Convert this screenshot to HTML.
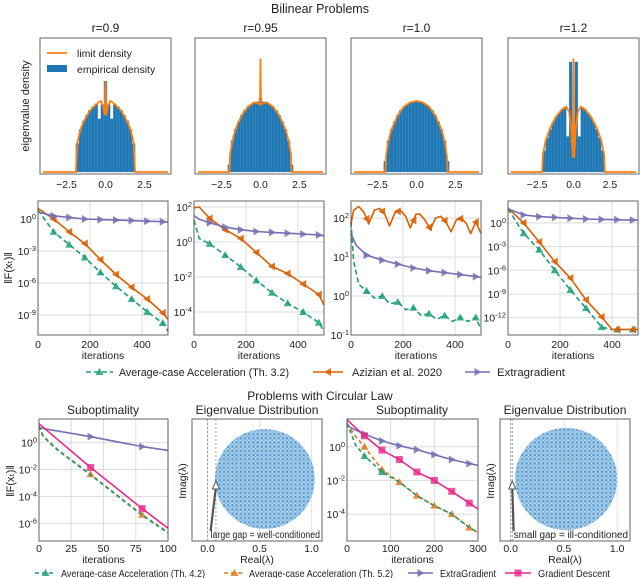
<!DOCTYPE html>
<html><head><meta charset="utf-8">
<style>
html,body{margin:0;padding:0;background:#fff;}
svg{display:block;font-family:"Liberation Sans",sans-serif;}
</style></head>
<body>
<svg id="fig" width="640" height="578" viewBox="0 0 640 578" xmlns="http://www.w3.org/2000/svg">
<defs>
<pattern id="dots" width="4.2" height="4.2" patternUnits="userSpaceOnUse">
<rect width="4.2" height="4.2" fill="#b3d3ec"/>
<circle cx="1.4" cy="1.4" r="1.35" fill="#3f8fca" opacity="0.85"/>
<circle cx="3.5" cy="3.4" r="1.0" fill="#5aa0d4" opacity="0.8"/>
</pattern>
</defs>
</svg>
<script>
// ---------- TOP ROW DATA ----------
const histCenters = [-2,-1.8,-1.6,-1.4,-1.2,-1,-0.8,-0.6,-0.4,-0.2,0,0.2,0.4,0.6,0.8,1,1.2,1.4,1.6,1.8,2];
const hist09 = [0,0.4,0.6,0.72,0.8,0.87,0.92,0.96,0.75,0.95,1.28,0.95,0.75,0.96,0.92,0.87,0.8,0.72,0.6,0.4,0];
const hist095 = [0.1,0.44,0.6,0.71,0.8,0.87,0.92,0.95,0.98,0.99,1.04,0.99,0.98,0.95,0.92,0.87,0.8,0.71,0.6,0.44,0.1];
const hist10 = [0.15,0.44,0.6,0.71,0.8,0.87,0.92,0.95,0.98,0.99,1.0,0.99,0.98,0.95,0.92,0.87,0.8,0.71,0.6,0.44,0.15];
const hist12 = [0.3,0.48,0.6,0.7,0.77,0.83,0.88,0.91,0.5,1.55,0.4,1.55,0.5,0.91,0.88,0.83,0.77,0.7,0.6,0.48,0.3];
const lim09X = [-4,-1.9,-1.8,-1.6,-1.4,-1.2,-1,-0.8,-0.6,-0.4,-0.3,-0.15,-0.05,-0.02,0,0.02,0.05,0.15,0.3,0.4,0.6,0.8,1,1.2,1.4,1.6,1.8,1.9,4];
const lim09Y = [0,0,0.42,0.6,0.71,0.79,0.86,0.91,0.95,0.99,1.0,0.92,0.8,1.1,1.28,1.1,0.8,0.92,1.0,0.99,0.95,0.91,0.86,0.79,0.71,0.6,0.42,0,0];
const lim095X = [-4,-2,-1.95,-1.8,-1.6,-1.2,-0.8,-0.4,-0.1,-0.03,0,0.03,0.1,0.4,0.8,1.2,1.6,1.8,1.95,2,4];
const lim095Y = [0,0,0.25,0.44,0.6,0.8,0.92,0.98,0.96,0.95,1.6,0.95,0.96,0.98,0.92,0.8,0.6,0.44,0.25,0,0];
const lim10X = [-4,-2,-1.95,-1.8,-1.6,-1.2,-0.8,-0.4,0,0.4,0.8,1.2,1.6,1.8,1.95,2,4];
const lim10Y = [0,0,0.22,0.44,0.6,0.8,0.92,0.98,1,0.98,0.92,0.8,0.6,0.44,0.22,0,0];
const lim12X = [-4.3,-2.15,-2.1,-1.9,-1.6,-1.2,-0.8,-0.5,-0.3,-0.15,-0.05,0,0.05,0.15,0.3,0.5,0.8,1.2,1.6,1.9,2.1,2.15,4.3];
const lim12Y = [0,0,0.25,0.45,0.62,0.78,0.88,0.92,0.85,0.6,0.2,1.6,0.2,0.6,0.85,0.92,0.88,0.78,0.62,0.45,0.25,0,0];
const topTicks = [-2.5,0,2.5];
const topTickLabels = ["\u22122.5","0.0","2.5"];
const topTitles = ["r=0.9","r=0.95","r=1.0","r=1.2"];

// ---------- MIDDLE ROW DATA (log10 values) ----------
const m1X = [0,60,120,180,240,300,360,420,480,500];
const m1Green = [0.85,-1.2,-2.4,-3.6,-5.0,-6.3,-7.5,-8.7,-9.75,-10.5];
const m1Orange = [1.0,0,-1.2,-2.3,-3.8,-5.2,-6.4,-7.5,-8.8,-9.4];
const m1Purple = [0.65,0.3,0.15,0,-0.05,-0.1,-0.15,-0.2,-0.25,-0.3];
const m2X = [0,20,60,120,180,240,300,360,420,480,500];
const m2Green = [1.25,0.2,-0.1,-0.75,-1.43,-2.2,-2.9,-3.5,-4.0,-4.6,-5.1];
const m2Orange = [1.95,2.0,1.35,0.7,0.2,-0.6,-1.4,-1.8,-2.4,-3.0,-3.6];
const m2Purple = [1.5,1.3,1.1,0.85,0.7,0.6,0.55,0.5,0.45,0.4,0.35];
const m3OrangeX = [0,10,30,50,68,90,110,130,148,170,190,210,228,250,265,285,305,325,345,365,385,405,425,445,460,480,500];
const m3Orange = [1.85,2.2,2.3,2.15,1.85,2.2,2.25,2.1,1.8,2.15,2.2,2.05,1.75,2.1,2.1,1.95,1.7,2.0,2.05,1.9,1.65,1.95,2.0,1.85,1.6,1.9,1.6];
const m3PurpleX = [0,20,60,120,180,240,300,360,420,480,500];
const m3Purple = [1.6,1.3,1.05,0.92,0.82,0.72,0.65,0.6,0.55,0.5,0.48];
const m3GreenX = [0,10,30,60,90,120,150,180,210,240,270,300,330,360,390,420,450,480,500];
const m3Green = [1.9,0.9,0.3,0.13,-0.05,0.0,-0.2,-0.15,-0.35,-0.3,-0.5,-0.45,-0.6,-0.5,-0.65,-0.55,-0.65,-0.55,-0.85];
const m4X = [0,60,120,180,240,300,360,400,420,500];
const m4Green = [1.8,-1.3,-3.4,-6.0,-8.5,-10.8,-13.2,-13.5,-13.5,-13.5];
const m4Orange = [1.9,0,-2.4,-4.9,-7.0,-9.75,-11.9,-13.5,-13.5,-13.5];
const m4Purple = [1.8,1.0,0.8,0.7,0.6,0.5,0.45,0.42,0.4,0.35];
const midXTicks = [0,200,400];
const midMarkerIters = [60,120,180,240,300,360,420,480];

// ---------- BOTTOM ROW DATA ----------
const b1GreenX = [0,3,8,15,40,80,100];
const b1Green = [1.2,0.5,0.0,-0.6,-2.4,-5.4,-6.7];
const b1Orange = [1.25,0.55,0.05,-0.55,-2.35,-5.35,-6.65];
const b1PurpleX = [0,40,80,100];
const b1Purple = [1.1,0.44,-0.3,-0.58];
const b1PinkX = [0,40,80,100];
const b1Pink = [1.4,-1.85,-4.9,-6.35];
const b1XTicks = [0,25,50,75,100];
const b1MarkerIters = [40,80];
const b3X = [0,40,80,120,160,200,240,280,300];
const b3Purple = [1.24,0.75,0.35,0.06,-0.17,-0.47,-0.76,-1.0,-1.1];
const b3Pink = [1.6,0.65,-0.2,-0.76,-1.5,-2.0,-2.65,-3.35,-3.7];
const b3AccX = [0,20,40,80,120,160,200,240,280,300];
const b3Green = [1.4,0.1,-0.55,-1.5,-2.1,-2.9,-3.5,-4.0,-4.8,-5.1];
const b3Orange = [1.4,0.6,0.0,-1.35,-2.1,-2.9,-3.5,-4.0,-4.8,-5.1];
const b3XTicks = [0,100,200,300];
const b3MarkerIters = [40,80,120,160,200,240,280];
const eigXTicks = [0,0.5,1.0];
const eigTickLabels = ["0.0","0.5","1.0"];

const NS = "http://www.w3.org/2000/svg";
const fig = document.getElementById("fig");
function mk(tag, attrs, parent, text){
  const e = document.createElementNS(NS, tag);
  for (const k in attrs) e.setAttribute(k, attrs[k]);
  if (text !== undefined) e.textContent = text;
  (parent || fig).appendChild(e);
  return e;
}
function txt(x,y,s,size,anchor,parent){
  return mk("text",{x:x,y:y,"font-size":size,"text-anchor":anchor||"middle",fill:"#222"},parent,s);
}
function interp(xs, ys, x){
  for (let i=0;i<xs.length-1;i++){ if (x>=xs[i] && x<=xs[i+1]){ const t=(x-xs[i])/(xs[i+1]-xs[i]); return ys[i]+t*(ys[i+1]-ys[i]); } }
  return ys[ys.length-1];
}
function supLabel(x,y,exp,parent){
  const t = mk("text",{x:x,y:y,"font-size":10.5,"text-anchor":"end",fill:"#222"},parent);
  mk("tspan",{},t,"10");
  mk("tspan",{dy:-4,"font-size":7.5},t,exp);
  return t;
}
function marker(g, kind, x, y, color){
  let el;
  if (kind==="up") el = mk("polygon",{points:`${x},${y-4} ${x-4},${y+3} ${x+4},${y+3}`,fill:color,opacity:0.85},g);
  else if (kind==="left") el = mk("polygon",{points:`${x-4},${y} ${x+3},${y-4} ${x+3},${y+4}`,fill:color,opacity:0.85},g);
  else if (kind==="right") el = mk("polygon",{points:`${x+4},${y} ${x-3},${y-4} ${x-3},${y+4}`,fill:color,opacity:0.85},g);
  else el = mk("rect",{x:x-3.5,y:y-3.5,width:7,height:7,fill:color,opacity:0.8},g);
  
  
}

// ---------- Titles ----------
txt(320,13,"Bilinear Problems",12.5);
txt(320,400,"Problems with Circular Law",12);

// ---------- TOP ROW ----------
const topLefts = [40,195,351,508];
const topW = 131, topY0 = 38, topY1 = 174, baseY = 172, unitH = 71;
const topHists = [hist09,hist095,hist10,hist12];
const topLimX = [lim09X,lim095X,lim10X,lim12X];
const topLimY = [lim09Y,lim095Y,lim10Y,lim12Y];
const topRanges = [[-4.2,4.2],[-4.2,4.2],[-4.2,4.2],[-4.5,4.5]];
for (let p=0;p<4;p++){
  const g = mk("g",{});
  
  
  const L = topLefts[p], R = topRanges[p];
  const sx = v => L + (v-R[0])/(R[1]-R[0])*topW;
  const sy = v => baseY - v*unitH;
  const hv = topHists[p];
  for (let i=0;i<histCenters.length;i++){
    if (hv[i]<=0) continue;
    const b = mk("rect",{x:sx(histCenters[i]-0.1),y:sy(hv[i]),width:sx(0.1)-sx(-0.1),height:baseY-sy(hv[i]),fill:"#1f77b4",stroke:"#4a93c6","stroke-width":0.3},g);
    
    
  }
  const lx = topLimX[p], ly = topLimY[p];
  let d = "";
  for (let i=0;i<lx.length;i++) d += (i?"L":"M")+sx(lx[i]).toFixed(1)+","+sy(ly[i]).toFixed(1);
  const ln = mk("path",{d:d,fill:"none",stroke:"#ff7f0e","stroke-width":1.8},g);
  
  
  mk("rect",{x:L,y:topY0,width:topW,height:topY1-topY0,fill:"none",stroke:"#555","stroke-width":0.9},g);
  for (let i=0;i<topTicks.length;i++){
    const t = txt(sx(topTicks[i]),188,topTickLabels[i],10.5,"middle",g);
    
    
  }
  const tt = txt(L+topW/2,32,topTitles[p],12,"middle",g);
  
  
}
{
  const yl = mk("text",{x:0,y:0,"font-size":11,"text-anchor":"middle",fill:"#222",transform:"translate(29,106) rotate(-90)"},fig,"eigenvalue density");
  
  
  const lg = mk("g",{});
  
  
  mk("line",{x1:47,y1:53,x2:67,y2:53,stroke:"#ff7f0e","stroke-width":1.8},lg);
  txt(77,57,"limit density",10.5,"start",lg);
  mk("rect",{x:47,y:65,width:20,height:7,fill:"#1f77b4"},lg);
  txt(77,73,"empirical density",10.5,"start",lg);
}

// ---------- MIDDLE ROW ----------
const midLefts = [38,194,351,508], midW = 130, midY0 = 201, midY1 = 335;
const midScales = [[1.69,-10.87],[2.34,-5.31],[2.44,-1.0],[2.78,-14.2]];
const midYTicks = [[0,-3,-6,-9],[2,0,-2,-4],[2,1,0,-1],[0,-3,-6,-9,-12]];
const midYLabels = [["0","-3","-6","-9"],["2","0","-2","-4"],["2","1","0","-1"],["0","-3","-6","-9","-12"]];
const midSeries = [
  [[m1X,m1Green],[m1X,m1Orange],[m1X,m1Purple]],
  [[m2X,m2Green],[m2X,m2Orange],[m2X,m2Purple]],
  [[m3GreenX,m3Green],[m3OrangeX,m3Orange],[m3PurpleX,m3Purple]],
  [[m4X,m4Green],[m4X,m4Orange],[m4X,m4Purple]]
];
const midStyles = [
  {c:"#1b9e77",dash:"5,3",m:"up",name:"avg-case-accel-line"},
  {c:"#d95f02",dash:"",m:"left",name:"azizian-line"},
  {c:"#7570b3",dash:"",m:"right",name:"extragradient-line"}
];
function logPanel(L,W,Y0,Y1,xmax,scale,yt,ylab,xt,parentName,tickOff,titleOff){
  const g = mk("g",{});
  
  
  const sx = v => L + v/xmax*W;
  const sy = v => Y0 + (scale[0]-v)/(scale[0]-scale[1])*(Y1-Y0);
  for (let i=0;i<yt.length;i++){
    mk("line",{x1:L,x2:L+W,y1:sy(yt[i]),y2:sy(yt[i]),stroke:"#ddd","stroke-width":1},g);
    const t = supLabel(L-2,sy(yt[i])+4,ylab[i],g);
    
    
  }
  for (let i=0;i<xt.length;i++){
    mk("line",{x1:sx(xt[i]),x2:sx(xt[i]),y1:Y0,y2:Y1,stroke:"#ddd","stroke-width":1},g);
    const t = txt(sx(xt[i]),Y1+tickOff,String(xt[i]),10.5,"middle",g);
    
    
  }
  const xl = txt(L+W/2,Y1+titleOff,"iterations",10.5,"middle",g);
  
  
  return {g,sx,sy,frame:()=>mk("rect",{x:L,y:Y0,width:W,height:Y1-Y0,fill:"none",stroke:"#555","stroke-width":0.9},g)};
}
function drawSeries(P, xs, ys, st, mIters){
  let d="";
  for (let i=0;i<xs.length;i++) d += (i?"L":"M")+P.sx(xs[i]).toFixed(1)+","+P.sy(ys[i]).toFixed(1);
  const a = {d:d,fill:"none",stroke:st.c,"stroke-width":1.6,"stroke-linejoin":"round"};
  if (st.dash) a["stroke-dasharray"]=st.dash;
  const ln = mk("path",a,P.g);
  
  
  for (const it of mIters){
    if (it > xs[xs.length-1]) continue;
    marker(P.g, st.m, P.sx(it), P.sy(interp(xs,ys,it)), st.c);
  }
}
for (let p=0;p<4;p++){
  const P = logPanel(midLefts[p],midW,midY0,midY1,500,midScales[p],midYTicks[p],midYLabels[p],midXTicks,'convergence-panel-'+(p+1),13,24);
  for (let s=0;s<3;s++) drawSeries(P, midSeries[p][s][0], midSeries[p][s][1], midStyles[s], midMarkerIters);
  P.frame();
}
{
  const yl = mk("text",{x:0,y:0,"font-size":11,"text-anchor":"middle",fill:"#222",transform:"translate(12,268) rotate(-90)"},fig,"\u2016F(x\u209C)\u2016");
  
  
}
function legendEntry(x1,x2,tx,y,st,label,name,tw,fs){
  const g = mk("g",{});
  
  
  const a = {x1:x1,x2:x2,y1:y,y2:y,stroke:st.c,"stroke-width":1.6};
  if (st.dash) a["stroke-dasharray"]=st.dash;
  mk("line",a,g);
  marker(g, st.m, (x1+x2)/2, y, st.c);
  mk("text",{x:tx,y:y+4,"font-size":fs,"text-anchor":"start",fill:"#222",textLength:tw,lengthAdjust:"spacingAndGlyphs"},g,label);
}
legendEntry(86,113,119,372,midStyles[0],"Average-case Acceleration (Th. 3.2)","legend-entry-avg-accel",170,11);
legendEntry(313,343,352,372,midStyles[1],"Azizian et al. 2020","legend-entry-azizian",90,11);
legendEntry(465,490,497,372,midStyles[2],"Extragradient","legend-entry-extragradient",68,11);

// ---------- BOTTOM ROW ----------
const botStyles = {
  green:{c:"#1b9e77",dash:"4,3",m:"up",name:"avg-accel-th42-line"},
  orange:{c:"#e6751a",dash:"4,3",m:"up",name:"avg-accel-th52-line"},
  purple:{c:"#7570b3",dash:"",m:"right",name:"extragradient-line"},
  pink:{c:"#e7298a",dash:"",m:"sq",name:"gradient-descent-line"}
};
const bY0 = 419, bY1 = 541;
{
  const P = logPanel(39,129,bY0,bY1,100,[1.75,-7.3],[0,-2,-4,-6],["0","-2","-4","-6"],b1XTicks,'suboptimality-panel-1',11,22);
  drawSeries(P,b1PurpleX,b1Purple,botStyles.purple,b1MarkerIters);
  drawSeries(P,b1PinkX,b1Pink,botStyles.pink,b1MarkerIters);
  drawSeries(P,b1GreenX,b1Orange,botStyles.orange,b1MarkerIters);
  drawSeries(P,b1GreenX,b1Green,botStyles.green,[]);
  P.frame();
  txt(103,414,"Suboptimality",12,"middle",P.g);
}
{
  const P = logPanel(347,131,bY0,bY1,300,[1.65,-5.6],[0,-2,-4],["0","-2","-4"],b3XTicks,'suboptimality-panel-2',11,22);
  drawSeries(P,b3X,b3Purple,botStyles.purple,b3MarkerIters);
  drawSeries(P,b3X,b3Pink,botStyles.pink,b3MarkerIters);
  drawSeries(P,b3AccX,b3Orange,botStyles.orange,[40,80,120,160,200,240,280]);
  drawSeries(P,b3AccX,b3Green,botStyles.green,[40,80]);
  P.frame();
  txt(412,414,"Suboptimality",12,"middle",P.g);
}
{
  const yl = mk("text",{x:0,y:0,"font-size":11,"text-anchor":"middle",fill:"#222",transform:"translate(14,481) rotate(-90)"},fig,"\u2016F(x\u209C)\u2016");
  
  
}
// eigenvalue panels
const eigPanels = [
  {L:192,x0:-0.15,x1:1.1,cx:0.55,r:0.48,gap:0.08,label:"large gap = well-conditioned"},
  {L:500,x0:-0.1,x1:1.12,cx:0.52,r:0.48,gap:0.015,label:"small gap = ill-conditioned"}
];
eigPanels.forEach((e,k)=>{
  const g = mk("g",{});
  
  
  const W = 130;
  const sx = v => e.L + (v-e.x0)/(e.x1-e.x0)*W;
  const pxPerUnit = W/(e.x1-e.x0);
  const cy = 479;
  for (const t of eigXTicks) mk("line",{x1:sx(t),x2:sx(t),y1:bY0,y2:bY1,stroke:"#e3e3e3","stroke-width":1},g);
  const disk = mk("circle",{cx:sx(e.cx),cy:cy,r:e.r*pxPerUnit,fill:"url(#dots)",opacity:0.95},g);
  
  
  mk("line",{x1:sx(0),x2:sx(0),y1:bY0,y2:bY1,stroke:"#888","stroke-width":0.8,"stroke-dasharray":"2,2"},g);
  mk("line",{x1:sx(e.gap),x2:sx(e.gap),y1:bY0,y2:bY1,stroke:"#888","stroke-width":0.8,"stroke-dasharray":"2,2"},g);
  const ar = mk("g",{},g);
  
  
  const ax0 = sx(0)+3, ax1 = sx(e.gap);
  mk("line",{x1:ax0,y1:531,x2:ax1,y2:487,stroke:"#555","stroke-width":2.2},ar);
  mk("polygon",{points:`${ax1},${481} ${ax1-3.5},${489} ${ax1+3.5},${489}`,fill:"#fff",stroke:"#555","stroke-width":1},ar);
  const lab = mk("text",{x:sx(0)+3,y:538,"font-size":10,"text-anchor":"start",fill:"#222",textLength:e.L+W-sx(0)-5,lengthAdjust:"spacingAndGlyphs"},g,e.label);
  
  
  mk("rect",{x:e.L,y:bY0,width:W,height:bY1-bY0,fill:"none",stroke:"#555","stroke-width":0.9},g);
  for (let i=0;i<eigXTicks.length;i++){
    const t = txt(sx(eigXTicks[i]),552,eigTickLabels[i],10.5,"middle",g);
    
    
  }
  txt(e.L+W/2,563,"Real(\u03BB)",10.5,"middle",g);
  mk("text",{x:0,y:0,"font-size":10.5,"text-anchor":"middle",fill:"#222",transform:`translate(${e.L-6},481) rotate(-90)`},g,"Imag(\u03BB)");
  txt(e.L+W/2,414,"Eigenvalue Distribution",12,"middle",g);
});
legendEntry(35,56,61,573,botStyles.green,"Average-case Acceleration (Th. 4.2)","legend-entry-th42",144,10.5);
legendEntry(224,245,249,573,botStyles.orange,"Average-case Acceleration (Th. 5.2)","legend-entry-th52",144,10.5);
legendEntry(408,433,440,573,botStyles.purple,"ExtraGradient","legend-entry-extragradient-bottom",56,10.5);
legendEntry(505,531,538,573,botStyles.pink,"Gradient Descent","legend-entry-gradient-descent",72,10.5);
</script>
</body></html>
